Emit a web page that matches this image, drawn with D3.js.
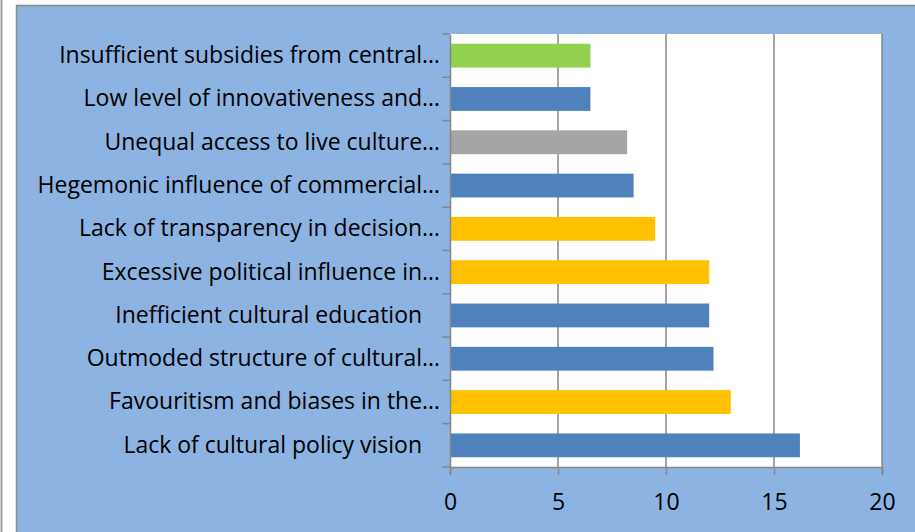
<!DOCTYPE html>
<html>
<head>
<meta charset="utf-8">
<script src="https://cdn.jsdelivr.net/npm/d3@7"></script>
<style>
  body { margin: 0; background: #fff; }
  text { white-space: pre; }
</style>
</head>
<body>
<div id="js_chart"></div>
<script>
// categories listed bottom to top as in the picture
var categories = [
  "Lack of cultural policy vision   ",
  "Favouritism and biases in the…",
  "Outmoded structure of cultural…",
  "Inefficient cultural education   ",
  "Excessive political influence in…",
  "Lack of transparency in decision…",
  "Hegemonic influence of commercial…",
  "Unequal access to live culture…",
  "Low level of innovativeness and…",
  "Insufficient subsidies from central…"
];
var values = [16.2, 13.0, 12.2, 12.0, 12.0, 9.5, 8.5, 8.2, 6.5, 6.5];
var barColors = ["#4F81BD", "#FFC000", "#4F81BD", "#4F81BD", "#FFC000",
                 "#FFC000", "#4F81BD", "#A5A5A5", "#4F81BD", "#92D050"];
var xTicks = [0, 5, 10, 15, 20];

var W = 915, H = 532;
var font = "'Open Sans', sans-serif";
var svg = d3.select("#js_chart").append("svg")
  .attr("width", W).attr("height", H)
  .style("display", "block");

// page edge line and chart frame
svg.append("line")
  .attr("x1", 1.5).attr("x2", 1.5).attr("y1", 0).attr("y2", H)
  .attr("stroke", "#a0a0a0").attr("stroke-width", 2);
svg.append("rect")
  .attr("x", 16.5).attr("y", 5.5).attr("width", W).attr("height", H)
  .attr("fill", "#8DB3E2").attr("stroke", "#8a8a8a").attr("stroke-width", 1.5);

var plotL = 450, plotR = 882, plotT = 34, plotB = 467;

var x = d3.scaleLinear().domain([0, 20]).range([plotL, plotR]);
var y = d3.scaleBand()
  .domain(categories.slice().reverse())
  .range([plotT, plotB])
  .paddingInner(0.45).paddingOuter(0.225);

svg.append("rect")
  .attr("x", plotL).attr("y", plotT)
  .attr("width", plotR - plotL).attr("height", plotB - plotT)
  .attr("fill", "#fff");

// gridlines
svg.append("g")
  .selectAll("line")
  .data(xTicks.slice(1))
  .join("line")
    .attr("x1", d => x(d)).attr("x2", d => x(d))
    .attr("y1", plotT).attr("y2", plotB)
    .attr("stroke", "#868686").attr("stroke-width", 1.5);

// bars
svg.append("g")
  .selectAll("rect")
  .data(values)
  .join("rect")
    .attr("x", x(0))
    .attr("y", (d, i) => y(categories[i]))
    .attr("width", d => x(d) - x(0))
    .attr("height", y.bandwidth())
    .attr("fill", (d, i) => barColors[i]);

// x axis
var xAxis = svg.append("g")
  .attr("transform", "translate(0," + plotB + ")")
  .call(d3.axisBottom(x).tickValues(xTicks).tickSize(8).tickPadding(19));
xAxis.select(".domain").attr("stroke", "#868686").attr("stroke-width", 1.5);
xAxis.selectAll(".tick line").attr("stroke", "#868686").attr("stroke-width", 1.5);
xAxis.selectAll(".tick text")
  .attr("font-family", font)
  .attr("font-size", 23).attr("fill", "#000");

// y axis with ticks between categories
var yAxis = svg.append("g")
  .attr("transform", "translate(" + plotL + ",0)")
  .call(d3.axisLeft(y).tickSize(0).tickPadding(10));
yAxis.select(".domain").attr("stroke", "#868686").attr("stroke-width", 1.5);
yAxis.selectAll(".tick text")
  .attr("font-family", font)
  .attr("font-size", 23).attr("fill", "#000");

var step = (plotB - plotT) / categories.length;
svg.append("g")
  .selectAll("line")
  .data(d3.range(categories.length + 1))
  .join("line")
    .attr("x1", plotL - 8).attr("x2", plotL)
    .attr("y1", d => plotT + d * step).attr("y2", d => plotT + d * step)
    .attr("stroke", "#868686").attr("stroke-width", 1.5);
</script>
</body>
</html>
